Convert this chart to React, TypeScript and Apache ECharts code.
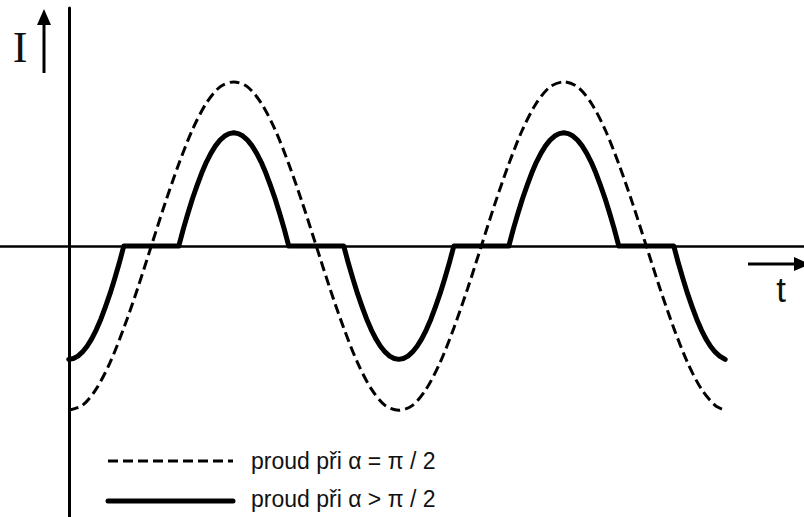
import React, { useEffect, useRef } from "react";
import * as echarts from "echarts";

// Phase angle ωt in degrees, current in units of the α = π/2 amplitude.
const angleHalfPi = [
  0, 15, 30, 45, 60, 75, 90, 105, 120, 135, 150, 165, 180, 195, 210, 225, 240, 255, 270, 285,
  300, 315, 330, 345, 360, 375, 390, 405, 420, 435, 450, 465, 480, 495, 510, 525, 540, 555,
  570, 585, 600, 615, 630, 645, 660, 675, 690, 705, 716,
];
const currentHalfPi = [
  -1.0, -0.97, -0.87, -0.71, -0.5, -0.26, 0.0, 0.26, 0.5, 0.71, 0.87, 0.97, 1.0, 0.97, 0.87,
  0.71, 0.5, 0.26, 0.0, -0.26, -0.5, -0.71, -0.87, -0.97, -1.0, -0.97, -0.87, -0.71, -0.5,
  -0.26, 0.0, 0.26, 0.5, 0.71, 0.87, 0.97, 1.0, 0.97, 0.87, 0.71, 0.5, 0.26, 0.0, -0.26, -0.5,
  -0.71, -0.87, -0.97, -1.0,
];

// Discontinuous current for α > π/2: conduction pulses separated by zero-current gaps.
const angleLate = [
  0, 5, 10, 15, 20, 25, 30, 35, 40, 45, 50, 55, 60,
  120, 125, 130, 135, 140, 145, 150, 155, 160, 165, 170, 175, 180,
  185, 190, 195, 200, 205, 210, 215, 220, 225, 230, 235, 240,
  300, 305, 310, 315, 320, 325, 330, 335, 340, 345, 350, 355, 360,
  365, 370, 375, 380, 385, 390, 395, 400, 405, 410, 415, 420,
  480, 485, 490, 495, 500, 505, 510, 515, 520, 525, 530, 535, 540,
  545, 550, 555, 560, 565, 570, 575, 580, 585, 590, 595, 600,
  660, 665, 670, 675, 680, 685, 690, 695, 700, 705, 710, 716,
];
const currentLate = [
  -0.69, -0.685, -0.67, -0.645, -0.61, -0.565, -0.51, -0.445, -0.37, -0.29, -0.2, -0.105, 0,
  0, 0.105, 0.2, 0.29, 0.37, 0.445, 0.51, 0.565, 0.61, 0.645, 0.67, 0.685, 0.69,
  0.685, 0.67, 0.645, 0.61, 0.565, 0.51, 0.445, 0.37, 0.29, 0.2, 0.105, 0,
  0, -0.105, -0.2, -0.29, -0.37, -0.445, -0.51, -0.565, -0.61, -0.645, -0.67, -0.685, -0.69,
  -0.685, -0.67, -0.645, -0.61, -0.565, -0.51, -0.445, -0.37, -0.29, -0.2, -0.105, 0,
  0, 0.105, 0.2, 0.29, 0.37, 0.445, 0.51, 0.565, 0.61, 0.645, 0.67, 0.685, 0.69,
  0.685, 0.67, 0.645, 0.61, 0.565, 0.51, 0.445, 0.37, 0.29, 0.2, 0.105, 0,
  0, -0.105, -0.2, -0.29, -0.37, -0.445, -0.51, -0.565, -0.61, -0.645, -0.67, -0.69,
];

const seriesNames = ["proud při α = π / 2", "proud při α > π / 2"];

const pairs = (xs: number[], ys: number[]) => xs.map((x, i) => [x, ys[i]]);

const legendFont = { fontFamily: "Liberation Sans", fontSize: 23, fill: "#111" };
const dash = [10, 5];

export default function App() {
  const ref = useRef<HTMLDivElement>(null);

  useEffect(() => {
    if (!ref.current) return;
    const chart = echarts.init(ref.current, undefined, { renderer: "svg" });
    chart.setOption({
      animation: false,
      backgroundColor: "#ffffff",
      grid: { left: 0, right: 0, top: 8, bottom: 0 },
      xAxis: {
        type: "value",
        min: -75,
        max: 802,
        axisLine: { show: true, onZero: true, lineStyle: { color: "#000", width: 2.5 } },
        axisTick: { show: false },
        axisLabel: { show: false },
        splitLine: { show: false },
      },
      yAxis: {
        type: "value",
        min: -1.65,
        max: 1.45,
        axisLine: { show: true, onZero: true, lineStyle: { color: "#000", width: 3 } },
        axisTick: { show: false },
        axisLabel: { show: false },
        splitLine: { show: false },
      },
      graphic: [
        // axis names with arrows
        {
          type: "text",
          x: 20,
          y: 47,
          style: {
            text: "I",
            fontFamily: "Liberation Serif",
            fontSize: 44,
            fill: "#111",
            align: "center",
            verticalAlign: "middle",
          },
        },
        {
          type: "line",
          shape: { x1: 44, y1: 73, x2: 44, y2: 22 },
          style: { stroke: "#000", lineWidth: 3 },
        },
        {
          type: "polygon",
          shape: { points: [[44, 9], [37, 25], [51, 25]] },
          style: { fill: "#000" },
        },
        {
          type: "text",
          x: 781,
          y: 289,
          style: {
            text: "t",
            fontFamily: "Liberation Sans",
            fontSize: 35,
            fill: "#111",
            align: "center",
            verticalAlign: "middle",
          },
        },
        {
          type: "line",
          shape: { x1: 748, y1: 264, x2: 797, y2: 264 },
          style: { stroke: "#000", lineWidth: 3 },
        },
        {
          type: "polygon",
          shape: { points: [[794, 257], [810, 264], [794, 271]] },
          style: { fill: "#000" },
        },
        // key
        {
          type: "line",
          shape: { x1: 108, y1: 461, x2: 233, y2: 461 },
          style: { stroke: "#000", lineWidth: 3, lineDash: dash },
        },
        {
          type: "text",
          x: 251,
          y: 461,
          style: { ...legendFont, text: seriesNames[0], verticalAlign: "middle" },
        },
        {
          type: "line",
          shape: { x1: 108, y1: 501, x2: 233, y2: 501 },
          style: { stroke: "#000", lineWidth: 5, lineCap: "round" },
        },
        {
          type: "text",
          x: 251,
          y: 499,
          style: { ...legendFont, text: seriesNames[1], verticalAlign: "middle" },
        },
      ],
      series: [
        {
          name: seriesNames[0],
          type: "line",
          data: pairs(angleHalfPi, currentHalfPi),
          smooth: 0.3,
          symbol: "none",
          lineStyle: { color: "#000", width: 3, type: dash },
          z: 3,
        },
        {
          name: seriesNames[1],
          type: "line",
          data: pairs(angleLate, currentLate),
          symbol: "none",
          lineStyle: { color: "#000", width: 5, join: "round", cap: "round" },
          z: 4,
        },
      ],
    });
    return () => chart.dispose();
  }, []);

  return (
    <div
      ref={ref}
      style={{ position: "fixed", left: 0, top: 0, width: 804, height: 517, background: "#fff" }}
    />
  );
}
